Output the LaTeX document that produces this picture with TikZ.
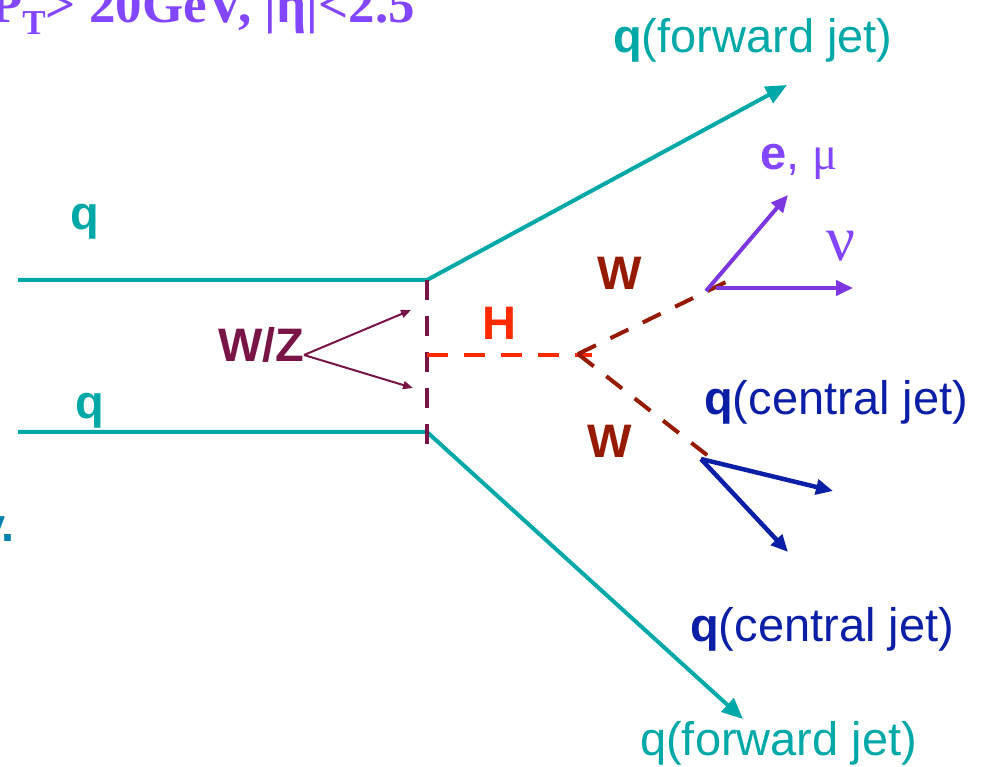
\documentclass[tikz,border=0pt]{standalone}
\usepackage{fontspec}
\setmainfont{Liberation Sans}
\newfontfamily\greekfont{Liberation Serif}
\usetikzlibrary{arrows.meta}

\definecolor{quark}{RGB}{0,168,168}
\definecolor{exchange}{RGB}{120,20,70}
\definecolor{higgs}{RGB}{255,42,0}
\definecolor{wboson}{RGB}{150,26,0}
\definecolor{lepton}{RGB}{125,55,225}
\definecolor{leptext}{RGB}{130,70,255}
\definecolor{central}{RGB}{10,30,166}
\definecolor{remark}{RGB}{0,128,176}

\begin{document}
\begin{tikzpicture}[
        x=1pt, y=-1pt,
        lbl/.style={inner sep=0pt, anchor=base west, font=\fontsize{47}{56}\selectfont},
        quarkline/.style={draw=quark, line width=4pt},
        fwdjet/.style={quarkline, -{Triangle[length=21pt,width=18pt]}},
        vexch/.style={draw=exchange, line width=4pt, dash pattern=on 20pt off 16pt},
        hprop/.style={draw=higgs, line width=4pt, dash pattern=on 21pt off 16pt},
        wprop/.style={draw=wboson, line width=4pt, dash pattern=on 20pt off 16pt},
        lepline/.style={draw=lepton, line width=4pt, -{Triangle[length=17pt,width=15pt]}},
        cjet/.style={draw=central, line width=4.5pt, -{Triangle[length=17pt,width=15pt]}},
        pointer/.style={draw=exchange, line width=2pt, -{Triangle[length=10pt,width=8pt]}}
    ]
    \useasboundingbox (0,0) rectangle (986,767);

    \coordinate (qa)   at (18,280);
    \coordinate (va)   at (427,280);
    \coordinate (fa)   at (787,85);
    \coordinate (qb)   at (18,432);
    \coordinate (vb)   at (427,432);
    \coordinate (fb)   at (743,719);
    \coordinate (vend) at (427,448);
    \coordinate (hv)   at (427,355);
    \coordinate (hx)   at (578,354);
    \coordinate (hend) at (592,355);
    \coordinate (wl)   at (728,281);
    \coordinate (wq)   at (712,459);
    \coordinate (ldk)  at (706,291);
    \coordinate (ndk)  at (716,288);
    \coordinate (etip) at (788,195);
    \coordinate (ntip) at (853,288);
    \coordinate (qdk)  at (701,459);
    \coordinate (jtip) at (833,491);
    \coordinate (ktip) at (788,552);
    \coordinate (wzsrc) at (304,355);
    \coordinate (wzup) at (411,310);
    \coordinate (wzdn) at (413,388);

    \node[lbl, anchor=base east, font=\fontsize{53}{60}\selectfont\greekfont\bfseries, text=leptext] (cuts)
        at (415,23) {P\raisebox{-12pt}{\fontsize{35}{35}\selectfont T}> 20GeV, |η|<2.5};
    \node[lbl, anchor=base east, font=\fontsize{47}{56}\selectfont\bfseries, text=remark] (rest) at (15,541) {y.};
    \node[lbl, text=quark]    (qin1)  at (70,230)  {\textbf{q}};
    \node[lbl, text=quark]    (qin2)  at (75,418)  {\textbf{q}};
    \node[lbl, text=quark]    (fwd1)  at (613,53)  {\textbf{q}(forward jet)};
    \node[lbl, text=quark]    (fwd2)  at (640,755) {q(forward jet)};
    \node[lbl, text=exchange] (wz)    at (218,362) {\textbf{W/Z}};
    \node[lbl, text=higgs]    (hlbl)  at (482,340) {\textbf{H}};
    \node[lbl, text=wboson]   (wup)   at (597,290) {\textbf{W}};
    \node[lbl, text=wboson]   (wdn)   at (587,457) {\textbf{W}};
    \node[lbl, text=leptext]  (emu)   at (760,170) {\textbf{e}, {\greekfont μ}};
    \node[lbl, text=leptext, font=\fontsize{64}{66}\selectfont\greekfont] (nu) at (826,261) {ν};
    \node[lbl, text=central]  (cen1)  at (704,415) {\textbf{q}(central jet)};
    \node[lbl, text=central]  (cen2)  at (690,641) {\textbf{q}(central jet)};

    \draw[fwdjet] (qa) -- (va) -- (fa);
    \draw[fwdjet] (qb) -- (vb) -- (fb);
    \draw[vexch] (va) -- (vend);
    \draw[pointer] (wzsrc) -- (wzup);
    \draw[pointer] (wzsrc) -- (wzdn);
    \draw[hprop] (hv) -- (hend);
    \draw[wprop] (hx) -- (wl);
    \draw[wprop] (hx) -- (wq);
    \draw[lepline] (ldk) -- (etip);
    \draw[lepline] (ndk) -- (ntip);
    \draw[cjet] (qdk) -- (jtip);
    \draw[cjet] (qdk) -- (ktip);
\end{tikzpicture}
\end{document}
